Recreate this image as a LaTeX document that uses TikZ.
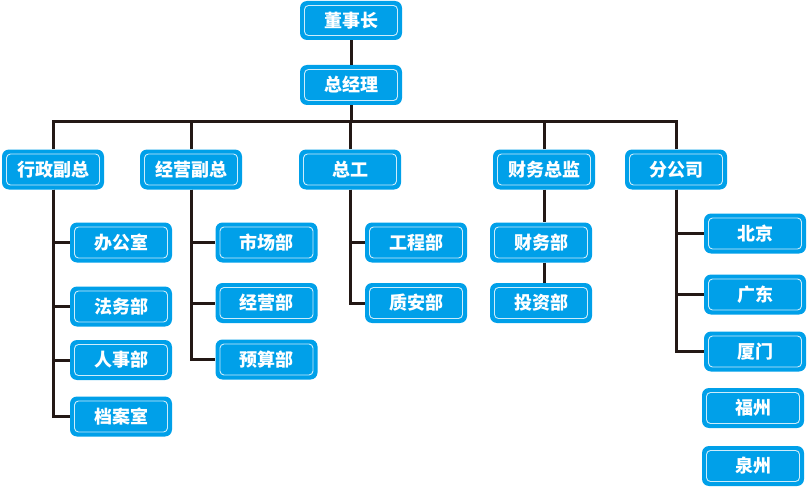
\documentclass[tikz,border=0pt]{standalone}
\usepackage{fontspec}
\newfontfamily\cjk{Noto Sans CJK SC}
\definecolor{boxblue}{RGB}{0,160,233}
\definecolor{linecol}{RGB}{35,24,21}
\tikzset{
  orgbox/.style={rectangle, fill=boxblue, rounded corners=7pt, minimum width=102pt, minimum height=40pt,
    inner sep=0pt, text=white, font=\cjk\bfseries\fontsize{18}{18}\selectfont,
    path picture={\draw[white!80!boxblue, line width=0.9pt, rounded corners=4pt]
      ([shift={(4.5pt,4.5pt)}]path picture bounding box.south west) rectangle
      ([shift={(-4.5pt,-4.5pt)}]path picture bounding box.north east);}},
  conn/.style={draw=linecol, line width=3pt}
}
\begin{document}
\begin{tikzpicture}[x=1pt,y=-1pt]
\useasboundingbox (0,0) rectangle (807,487);
% top
\node[orgbox, minimum height=39pt] (dsz) at (351,20.5) {董事长};
\node[orgbox] (zjl) at (351,85) {总经理};
% level 2
\node[orgbox] (xz) at (53,169.5) {行政副总};
\node[orgbox] (jy) at (191,169.5) {经营副总};
\node[orgbox] (zg) at (350,169.5) {总工};
\node[orgbox] (cw) at (544,169.5) {财务总监};
\node[orgbox] (fgs) at (676,169.5) {分公司};
% level 3
\node[orgbox] (bgs) at (121,242.5) {办公室};
\node[orgbox] (fwb) at (121,306.5) {法务部};
\node[orgbox] (rsb) at (121,360) {人事部};
\node[orgbox] (das) at (121,416.5) {档案室};
\node[orgbox] (scb) at (266.5,242.5) {市场部};
\node[orgbox] (jyb) at (266.5,303) {经营部};
\node[orgbox] (ysb) at (266.5,359.5) {预算部};
\node[orgbox] (gcb) at (416,242.5) {工程部};
\node[orgbox] (zab) at (416,303) {质安部};
\node[orgbox] (cwb) at (541,242.5) {财务部};
\node[orgbox] (tzb) at (541,303) {投资部};
\node[orgbox] (bj) at (755,233.5) {北京};
\node[orgbox] (gd) at (755,294.5) {广东};
\node[orgbox] (xm) at (755,351.5) {厦门};
\node[orgbox] (fz) at (753,408) {福州};
\node[orgbox] (qz) at (753,466) {泉州};
% connectors
\coordinate (bus) at (351,122);
\draw[conn] (dsz.south) -- (zjl.north);
\draw[conn] (zjl.south) -- (bus);
\draw[conn, line cap=rect] (xz.north |- bus) -- (fgs.north |- bus);
\foreach \n in {xz,jy,zg,cw,fgs} { \draw[conn] (\n.north) -- (\n.north |- bus); }
\foreach \c in {bgs,fwb,rsb,das} { \draw[conn] (xz.south) |- (\c.west); }
\foreach \c in {scb,jyb,ysb} { \draw[conn] (jy.south) |- (\c.west); }
\foreach \c in {gcb,zab} { \draw[conn] (zg.south) |- (\c.west); }
\foreach \c in {bj,gd,xm} { \draw[conn] (fgs.south) |- (\c.west); }
\draw[conn] (cw.south) -- (cw.south |- cwb.north);
\draw[conn] (cwb.south -| cw.south) -- (cw.south |- tzb.north);
\end{tikzpicture}
\end{document}
